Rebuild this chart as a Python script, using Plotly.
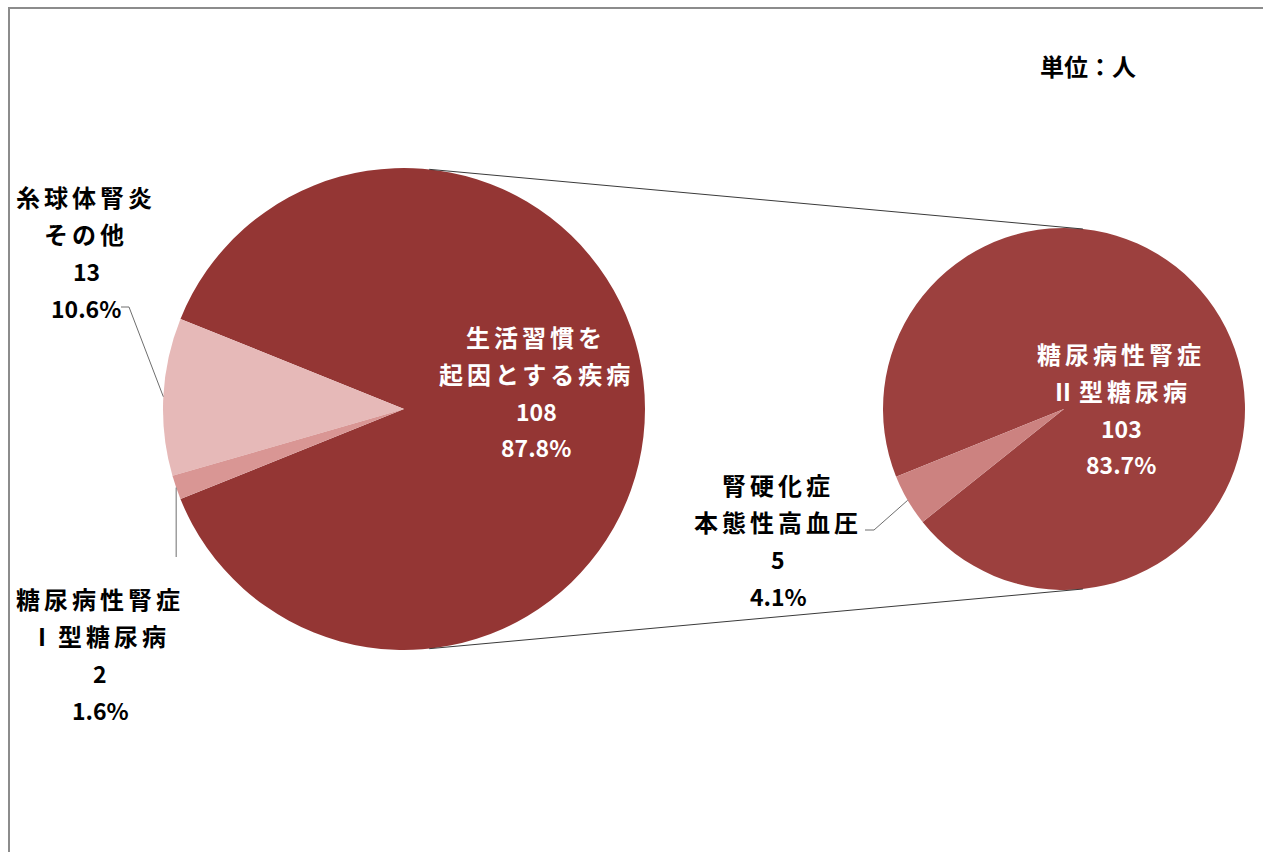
import math
import plotly.graph_objects as go

W, H = 1263, 852

# Primary pie: all patients by cause
main_names = ["生活習慣を\n起因とする疾病", "糸球体腎炎\nその他", "糖尿病性腎症\nⅠ型糖尿病"]
main_values = [108, 13, 2]
main_colors = ["#943634", "#E6B9B8", "#D99694"]

# Secondary pie: breakdown of 生活習慣を起因とする疾病
sub_names = ["糖尿病性腎症\nⅡ型糖尿病", "腎硬化症\n本態性高血圧"]
sub_values = [103, 5]
sub_colors = ["#9C403E", "#CC8280"]

unit_text = "単位：人"

total = sum(main_values)

# Pie geometry in pixels (centre x, centre y from top, radius)
L_CX, L_CY, L_R = 404, 409, 241
R_CX, R_CY, R_R = 1064, 409, 181

FONT = "Noto Sans CJK JP, Noto Sans CJK SC, sans-serif"
FS_CJK = 24
FS_NUM = 23
LINE_GAP = 37


def px(x):
    return x / W


def py(y):
    return 1 - y / H


def domain(cx, cy, r):
    return dict(x=[px(cx - r), px(cx + r)], y=[py(cy + r), py(cy - r)])


# the aggregated slice is centred on 3 o'clock
main_rot = 90 - 180 * main_values[0] / total
# the secondary pie starts where the remaining slices of the primary pie end
sub_rot = 90 - (180 + 180 * (total - main_values[0]) / total)


def mid_angles(values, rot):
    """Standard (counter-clockwise from +x) mid angles for slices 2..n."""
    s = sum(values)
    out = {}
    cum = 0.0
    for k in range(1, len(values)):
        a = values[k] / s * 360
        out[k] = 90 - rot + cum + a / 2
        cum += a
    return out


def rim(cx, cy, r, ang):
    t = math.radians(ang)
    return cx + r * math.cos(t), cy - r * math.sin(t)


fig = go.Figure()
fig.add_trace(go.Pie(
    values=main_values, labels=[n.replace("\n", "") for n in main_names],
    marker=dict(colors=main_colors, line=dict(width=0)),
    sort=False, direction="counterclockwise", rotation=main_rot,
    textinfo="none", hoverinfo="skip", showlegend=False,
    domain=domain(L_CX, L_CY, L_R),
))
fig.add_trace(go.Pie(
    values=sub_values, labels=[n.replace("\n", "") for n in sub_names],
    marker=dict(colors=sub_colors, line=dict(width=0)),
    sort=False, direction="counterclockwise", rotation=sub_rot,
    textinfo="none", hoverinfo="skip", showlegend=False,
    domain=domain(R_CX, R_CY, R_R),
))

annotations = []


def is_cjk(t):
    return any(ord(c) > 0x2000 for c in t)


def label_block(name, value, cx, cy, color):
    lines = name.split("\n") + [str(value), f"{value / total * 100:.1f}%"]
    n = len(lines)
    for i, t in enumerate(lines):
        y = cy + (i - (n - 1) / 2) * LINE_GAP
        if is_cjk(t):
            txt, size = f'<span style="letter-spacing:4px">{t}</span>', FS_CJK
        else:
            txt, size = t, FS_NUM
        annotations.append(dict(
            text=f"<b>{txt}</b>", x=px(cx), y=py(y), xref="paper", yref="paper",
            xanchor="center", yanchor="middle", showarrow=False,
            font=dict(family=FONT, size=size, color=color),
        ))


label_block(main_names[0], main_values[0], 536, 392, "white")
label_block(main_names[1], main_values[1], 86, 252, "black")
label_block(main_names[2], main_values[2], 100, 654, "black")
label_block(sub_names[0], sub_values[0], 1121, 409, "white")
label_block(sub_names[1], sub_values[1], 778, 540, "black")

annotations.append(dict(
    text=f"<b>{unit_text}</b>", x=px(1088), y=py(65), xref="paper", yref="paper",
    xanchor="center", yanchor="middle", showarrow=False,
    font=dict(family=FONT, size=FS_CJK, color="black"),
))

shapes = []


def seg(pts, color, width):
    path = "M " + " L ".join(f"{px(x)},{py(y)}" for x, y in pts)
    shapes.append(dict(type="path", path=path, xref="paper", yref="paper",
                       line=dict(color=color, width=width)))


# connectors between the two pies
for ang in (84, -84):
    seg([rim(L_CX, L_CY, L_R, ang), rim(R_CX, R_CY, R_R, ang)], "#3a3a3a", 1)

# leader lines to the small slices
lm = mid_angles(main_values, main_rot)
sm = mid_angles(sub_values, sub_rot)
p13 = rim(L_CX, L_CY, L_R, lm[1])
seg([(121, 307), (129, 307), p13], "#6e6e6e", 1)
p2 = rim(L_CX, L_CY, L_R, lm[2])
seg([p2, (p2[0], 557)], "#6e6e6e", 1)
p5 = rim(R_CX, R_CY, R_R, sm[1])
seg([(865, 530), (874, 530), p5], "#6e6e6e", 1)

# outer frame
seg([(9, H + 5), (9, 8), (W + 5, 8)], "#8c8c8c", 2)

fig.update_layout(
    width=W, height=H, margin=dict(l=0, r=0, t=0, b=0),
    paper_bgcolor="white", plot_bgcolor="white",
    annotations=annotations, shapes=shapes,
)

fig.write_html("out.html")
